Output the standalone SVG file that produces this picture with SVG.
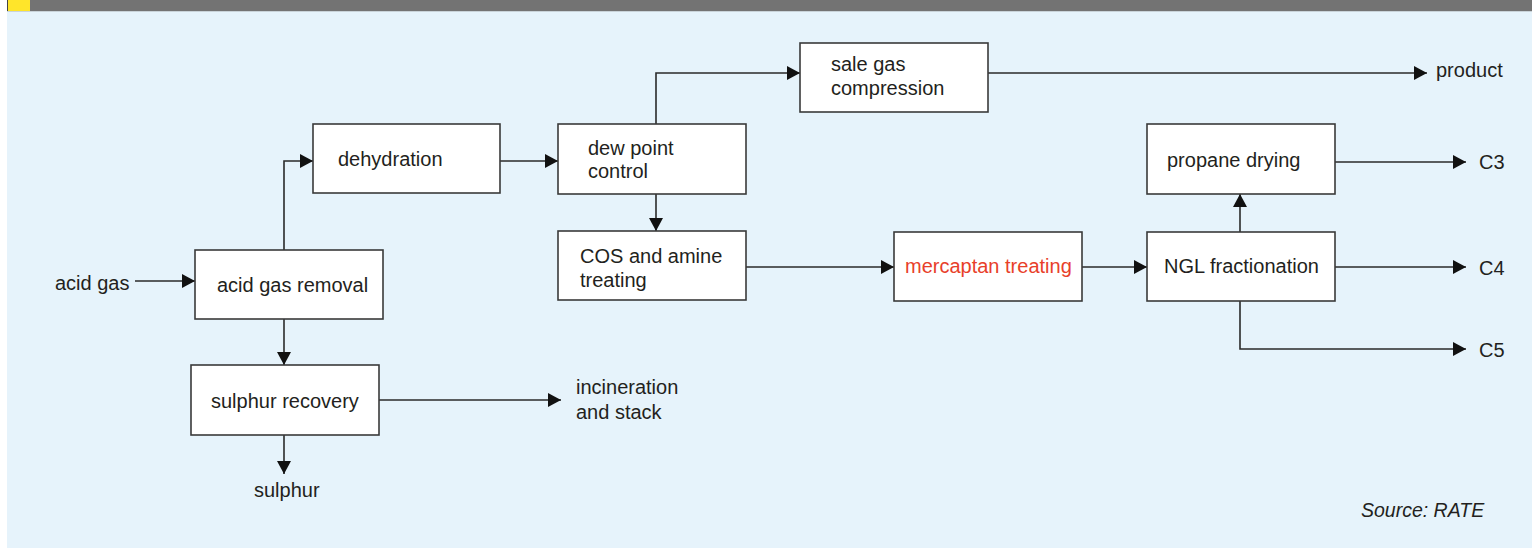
<svg xmlns="http://www.w3.org/2000/svg" width="1532" height="548" viewBox="0 0 1532 548">
  <style>
    .box { fill: #ffffff; stroke: #3a3a3a; stroke-width: 1.6; }
    .lbl { font-family: "Liberation Sans", Arial, sans-serif; font-size: 20px; fill: #231f20; }
    .hot { fill: #e8402a; }
    .src { font-family: "Liberation Sans", Arial, sans-serif; font-size: 19.5px; font-style: italic; fill: #231f20; }
    .flow { fill: none; stroke: #2a2a2a; stroke-width: 1.6; marker-end: url(#arrow); }
  </style>
  <defs>
    <marker id="arrow" markerUnits="userSpaceOnUse" markerWidth="14" markerHeight="14" refX="13" refY="7" orient="auto">
      <path d="M0,0 L13,7 L0,14 Z" fill="#111111"/>
    </marker>
  </defs>

  <!-- panel background and title strip -->
  <rect x="0" y="0" width="1532" height="548" fill="#ffffff"/>
  <rect x="7" y="11" width="1525" height="537" fill="#e6f3fb"/>
  <rect x="7" y="0" width="1525" height="11" fill="#737373"/>
  <rect x="7" y="11" width="1525" height="1" fill="#c9d3d9"/>
  <rect x="7" y="0" width="1" height="11" fill="#444444"/>
  <rect x="8" y="0" width="22" height="11" fill="#ffe52a"/>

  <!-- connectors -->
  <g id="connectors">
    <path class="flow" d="M135,281 H195"/>
    <path class="flow" d="M284,250 V161 H313"/>
    <path class="flow" d="M284,319 V365"/>
    <path class="flow" d="M379,400 H561"/>
    <path class="flow" d="M284,435 V474"/>
    <path class="flow" d="M500,161 H558"/>
    <path class="flow" d="M656,124 V73 H800"/>
    <path class="flow" d="M988,73 H1427"/>
    <path class="flow" d="M656,194 V231"/>
    <path class="flow" d="M746,267 H894"/>
    <path class="flow" d="M1082,267 H1147"/>
    <path class="flow" d="M1240,232 V194"/>
    <path class="flow" d="M1335,162 H1466"/>
    <path class="flow" d="M1335,267 H1466"/>
    <path class="flow" d="M1240,301 V349 H1466"/>
  </g>

  <!-- process units -->
  <g id="acid-gas-removal">
    <rect class="box" x="195" y="250" width="188" height="69"/>
    <text class="lbl" x="217" y="292">acid gas removal</text>
  </g>
  <g id="dehydration">
    <rect class="box" x="313" y="124" width="187" height="69"/>
    <text class="lbl" x="338" y="166">dehydration</text>
  </g>
  <g id="sulphur-recovery">
    <rect class="box" x="191" y="365" width="188" height="70"/>
    <text class="lbl" x="211" y="408">sulphur recovery</text>
  </g>
  <g id="dew-point-control">
    <rect class="box" x="558" y="124" width="188" height="70"/>
    <text class="lbl" x="588" y="155">dew point</text>
    <text class="lbl" x="588" y="178">control</text>
  </g>
  <g id="sale-gas-compression">
    <rect class="box" x="800" y="43" width="188" height="69"/>
    <text class="lbl" x="831" y="71">sale gas</text>
    <text class="lbl" x="831" y="95">compression</text>
  </g>
  <g id="cos-amine-treating">
    <rect class="box" x="558" y="231" width="188" height="69"/>
    <text class="lbl" x="580" y="263">COS and amine</text>
    <text class="lbl" x="580" y="287">treating</text>
  </g>
  <g id="mercaptan-treating">
    <rect class="box" x="894" y="232" width="188" height="69"/>
    <text class="lbl hot" x="905" y="273">mercaptan treating</text>
  </g>
  <g id="ngl-fractionation">
    <rect class="box" x="1147" y="232" width="188" height="69"/>
    <text class="lbl" x="1164" y="273">NGL fractionation</text>
  </g>
  <g id="propane-drying">
    <rect class="box" x="1147" y="124" width="188" height="70"/>
    <text class="lbl" x="1167" y="167">propane drying</text>
  </g>

  <!-- stream ends -->
  <g id="acid-gas">
    <text class="lbl" x="55" y="290">acid gas</text>
  </g>
  <g id="incineration">
    <text class="lbl" x="576" y="394">incineration</text>
    <text class="lbl" x="576" y="419">and stack</text>
  </g>
  <g id="sulphur">
    <text class="lbl" x="254" y="497">sulphur</text>
  </g>
  <g id="product">
    <text class="lbl" x="1436" y="77">product</text>
  </g>
  <g id="c3">
    <text class="lbl" x="1479" y="169">C3</text>
  </g>
  <g id="c4">
    <text class="lbl" x="1479" y="275">C4</text>
  </g>
  <g id="c5">
    <text class="lbl" x="1479" y="357">C5</text>
  </g>

  <text class="src" x="1361" y="517">Source: RATE</text>
</svg>
